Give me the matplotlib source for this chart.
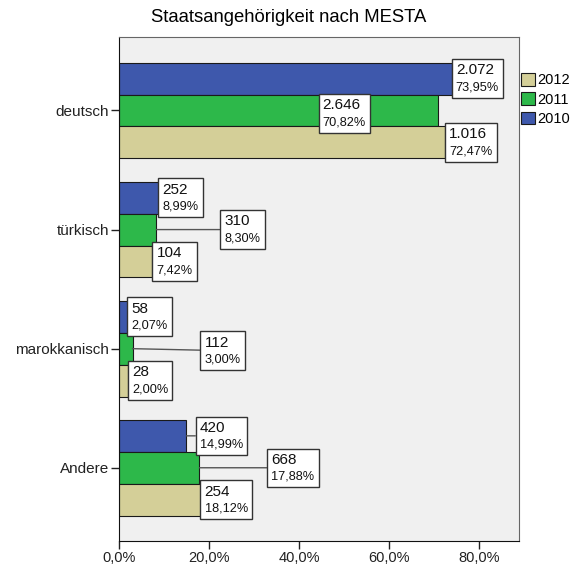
import matplotlib
matplotlib.use("Agg")
import matplotlib.pyplot as plt
from matplotlib.patches import Patch
from matplotlib.offsetbox import TextArea, VPacker, AnnotationBbox

plt.rcParams['font.family'] = ['Liberation Sans', 'DejaVu Sans']

categories = ["deutsch", "türkisch", "marokkanisch", "Andere"]
years = ["2010", "2011", "2012"]
pct_2010 = [73.95, 8.99, 2.07, 14.99]
pct_2011 = [70.82, 8.30, 3.00, 17.88]
pct_2012 = [72.47, 7.42, 2.00, 18.12]
n_2010 = [2072, 252, 58, 420]
n_2011 = [2646, 310, 112, 668]
n_2012 = [1016, 104, 28, 254]
x_ticks = [0, 20, 40, 60, 80]

colors = {"2010": "#3e58ac", "2011": "#2db84a", "2012": "#d4cf98"}

# label box offsets from bar end (pixels, dx right / dy down), per category
label_dx = {"2010": [0, -1, -1, 9.5], "2011": [-119, 64, 68, 68], "2012": [0, 0, 0, 0]}
label_dy = {"2010": [0, 0, 0, 0], "2011": [3, 0, 2, 0], "2012": [0, 0, 0, 0]}


def de_num(v, dec):
    s = f"{v:,.{dec}f}"
    return s.replace(",", "X").replace(".", ",").replace("X", ".")


fig = plt.figure(figsize=(5.74, 5.71), dpi=100)
ax = fig.add_axes([119 / 574, 1 - 541 / 571, 400 / 574, 504 / 571])
ax.set_facecolor("#f0f0f0")

bh = 0.268
series = [("2010", pct_2010, n_2010, -bh), ("2011", pct_2011, n_2011, 0.0), ("2012", pct_2012, n_2012, bh)]
px2pt = 72 / 100
frame_pad = 4  # px the box frame sticks out past its text

for year, pcts, counts, off in series:
    ys = [i + off for i in range(len(categories))]
    ax.barh(ys, pcts, height=bh, color=colors[year], edgecolor="#1a1a1a", linewidth=0.8, zorder=2)
    for i, (p, n) in enumerate(zip(pcts, counts)):
        t1 = TextArea(de_num(n, 0), textprops=dict(size=11, color="#111"))
        t2 = TextArea(de_num(p, 2) + "%", textprops=dict(size=9.2, color="#111"))
        box = VPacker(children=[t1, t2], align="left", pad=0, sep=3)
        dx = label_dx[year][i]
        dy = label_dy[year][i]
        arrow = dict(arrowstyle="-", color="#555555", lw=1, shrinkA=0, shrinkB=0) if dx > 5 else None
        ab = AnnotationBbox(box, (p, ys[i]), xybox=((dx + frame_pad) * px2pt, -dy * px2pt),
                            xycoords="data", boxcoords="offset points",
                            box_alignment=(0, 0.5), pad=0.3, frameon=True,
                            bboxprops=dict(boxstyle="square,pad=0.3", ec="#333333", fc="white", lw=1),
                            arrowprops=arrow, zorder=5)
        ax.add_artist(ab)

ax.set_xlim(0, 400 / 4.5)
ax.set_ylim(len(categories) - 1 + 0.615, -0.617)
ax.set_yticks(range(len(categories)))
ax.set_yticklabels(categories, fontsize=11, color="#222")
ax.set_xticks(x_ticks)
ax.set_xticklabels([de_num(v, 1) + "%" for v in x_ticks], fontsize=10.5, color="#222")
ax.tick_params(axis="both", length=6, width=1, color="#222", pad=1)

for side in ["top", "right"]:
    ax.spines[side].set_color("#666666")
for side in ["left", "bottom"]:
    ax.spines[side].set_color("#111111")

fig.text(289 / 574, 1 - 18 / 571, "Staatsangehörigkeit nach MESTA", ha="center", va="center", fontsize=13.3)

handles = [Patch(facecolor=colors[y], edgecolor="#1a1a1a", linewidth=0.8, label=y) for y in ["2012", "2011", "2010"]]
fig.legend(handles=handles, loc="upper left", bbox_to_anchor=(521 / 574, 1 - 73 / 571),
           frameon=False, fontsize=10.5, handlelength=0.95, handleheight=0.95,
           handletextpad=0.15, labelspacing=0.35, borderpad=0, borderaxespad=0)

fig.savefig("out.png", dpi=100)
